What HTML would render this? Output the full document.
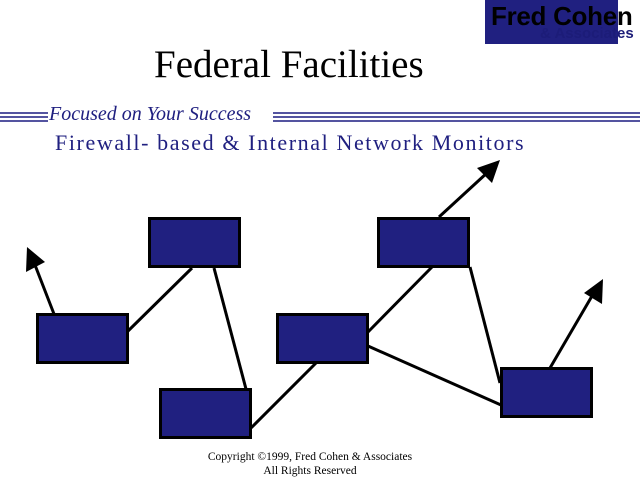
<!DOCTYPE html>
<html><head><meta charset="utf-8"><style>
html,body{margin:0;padding:0;background:#fff;}
body{width:640px;height:480px;position:relative;overflow:hidden;}
.t{position:absolute;white-space:nowrap;}
</style></head><body>
<div style="position:absolute;left:485px;top:0;width:133px;height:44px;background:#202080;"></div>
<div class="t" style="left:491px;top:1px;font:bold 26px 'Liberation Sans',sans-serif;color:#000;letter-spacing:-0.3px;">Fred Cohen</div>
<div class="t" style="left:540px;top:25px;font:bold 15px 'Liberation Sans',sans-serif;color:#1c1c78;">&amp; Associates</div>
<div class="t" style="left:154px;top:42px;font:39px 'Liberation Serif',serif;color:#000;">Federal Facilities</div>
<svg width="640" height="480" style="position:absolute;left:0;top:0">
<g stroke="#1c1c80" stroke-width="1.5">
<line x1="0" y1="113" x2="48" y2="113"/><line x1="0" y1="117" x2="48" y2="117"/><line x1="0" y1="121" x2="48" y2="121"/>
<line x1="273" y1="113" x2="640" y2="113"/><line x1="273" y1="117" x2="640" y2="117"/><line x1="273" y1="121" x2="640" y2="121"/>
</g>
<g stroke="#000" stroke-width="3">
<line x1="128" y1="331" x2="192" y2="268"/>
<line x1="214" y1="268" x2="246" y2="389"/>
<line x1="251" y1="428" x2="316" y2="363"/>
<line x1="368" y1="332" x2="432" y2="267"/>
<line x1="368" y1="346" x2="501" y2="405"/>
<line x1="470" y1="267" x2="500" y2="383"/>
<line x1="54" y1="314" x2="35" y2="265"/>
<line x1="439" y1="217" x2="488" y2="172"/>
<line x1="550" y1="368" x2="592" y2="296"/>
</g>
<g fill="#000">
<polygon points="27,247 45,262 26,272"/>
<polygon points="500,160 492,183 477,168"/>
<polygon points="603,279 602,304 584,293"/>
</g>
<g fill="#202080" stroke="#000" stroke-width="3">
<rect x="149.5" y="218.5" width="90" height="48"/>
<rect x="37.5" y="314.5" width="90" height="48"/>
<rect x="160.5" y="389.5" width="90" height="48"/>
<rect x="277.5" y="314.5" width="90" height="48"/>
<rect x="378.5" y="218.5" width="90" height="48"/>
<rect x="501.5" y="368.5" width="90" height="48"/>
</g>
</svg>
<div class="t" style="left:49px;top:103px;font:italic 20px 'Liberation Serif',serif;color:#202080;">Focused on Your Success</div>
<div class="t" style="left:55px;top:130px;font:22px 'Liberation Serif',serif;color:#202080;letter-spacing:1.6px;">Firewall- based &amp; Internal Network Monitors</div>
<div class="t" style="left:200px;top:450px;width:220px;text-align:center;font:11.5px 'Liberation Serif',serif;color:#000;line-height:14px;">Copyright ©1999, Fred Cohen &amp; Associates<br>All Rights Reserved</div>
</body></html>
